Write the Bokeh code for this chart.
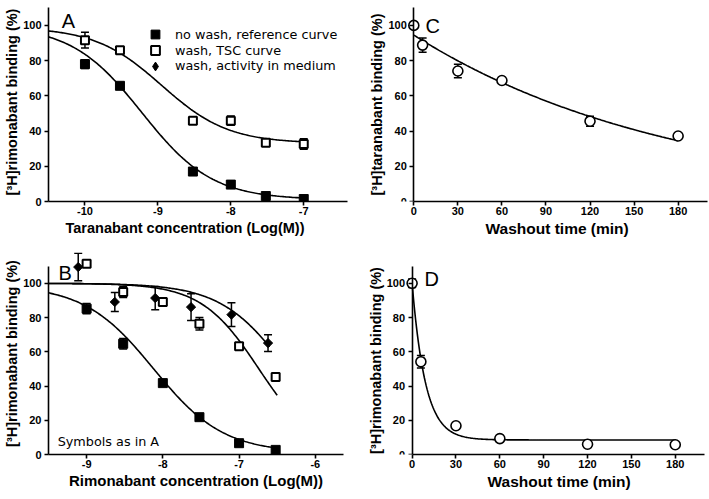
import numpy as np
from bokeh.plotting import figure
from bokeh.models import Range1d, FixedTicker, Label, Legend, LegendItem, Title
from bokeh.layouts import column, row
from bokeh.embed import file_html
from bokeh.resources import INLINE

# ---------------- data ----------------
# Panel A: taranabant (log M)
a_conc = [-10.0, -9.52, -8.52, -8.0, -7.52, -7.0]
a_nowash = [78.0, 65.7, 17.0, 9.6, 3.1, 1.4]
a_nowash_sem = [2.5, 1.5, 1.0, 1.5, 1.0, 1.0]
a_tsc = [91.6, 85.9, 45.9, 45.9, 33.3, 32.7]
a_tsc_sem = [4.5, 1.0, 1.0, 2.6, 1.0, 3.0]
# fitted curves: [top, bottom, logIC50, hill]
a_nowash_fit = [100.0, 1.0, -9.22, 0.9]
a_tsc_fit = [99.0, 33.0, -8.95, 0.95]

# Panel B: rimonabant (log M)
b_conc = [-9.0, -8.52, -8.0, -7.52, -7.0, -6.52]
b_nowash = [85.2, 64.7, 41.7, 21.8, 6.6, 2.7]
b_nowash_sem = [3.0, 3.0, 1.0, 1.0, 1.0, 1.0]
b_tsc = [111.5, 94.9, 89.1, 76.4, 63.2, 45.2]
b_tsc_sem = [1.5, 3.2, 1.5, 3.7, 1.0, 1.0]
b_med_conc = [-9.11, -8.63, -8.1, -7.63, -7.1, -6.62]
b_med = [109.5, 89.1, 91.4, 86.1, 81.7, 65.1]
b_med_sem = [8.0, 5.5, 6.8, 7.8, 7.0, 4.9]
b_nowash_fit = [99.0, 1.0, -8.12, 0.95]
b_tsc_fit = [100.0, 0.0, -6.74, 1.15]
b_med_fit = [100.0, 0.0, -6.37, 1.0]

# Panel C / D: washout time (min)
c_time = [0, 6, 30, 60, 120, 180]
c_bind = [100.0, 88.8, 74.1, 68.7, 45.6, 37.2]
c_sem = [0.0, 4.0, 3.8, 1.0, 2.8, 1.0]
c_fit = [94.5, 0.0, 0.0056]   # [Y0, plateau, k]
d_time = [0, 6, 30, 60, 120, 180]
d_bind = [100.0, 54.2, 16.8, 9.3, 6.0, 5.7]
d_sem = [2.5, 3.7, 1.0, 1.0, 1.0, 1.0]
d_fit = [100.0, 8.5, 0.11]

y_ticks = [0, 20, 40, 60, 80, 100]
a_xticks = [-10, -9, -8, -7]
b_xticks = [-9, -8, -7, -6]
t_ticks = [0, 30, 60, 90, 120, 150, 180]

legend_labels = ["no wash, reference curve", "wash, TSC curve", "wash, activity in medium"]

# ---------------- helpers ----------------
def sigmoid(x, prm):
    top, bottom, logic50, hill = prm
    return bottom + (top - bottom) / (1.0 + 10.0 ** ((x - logic50) * hill))

def decay(t, prm):
    y0, plateau, k = prm
    return plateau + (y0 - plateau) * np.exp(-k * t)

FONT = "Liberation Sans"
TITLE_SIZE = "14.5px"

def make_fig(W, H, L, R, T, B, xr, yr):
    p = figure(width=W, height=H, x_range=Range1d(*xr), y_range=Range1d(*yr),
               output_backend="svg", toolbar_location=None,
               min_border_left=L, min_border_right=R, min_border_top=T, min_border_bottom=B)
    p.outline_line_color = None
    p.xgrid.visible = False
    p.ygrid.visible = False
    p.background_fill_color = "white"
    p.border_fill_color = "white"
    return p

def style_axes(p, xticks, xbounds, xlabel, ylabel, yfixed=None, xlabel_size=TITLE_SIZE):
    for ax in (p.xaxis[0], p.yaxis[0]):
        ax.axis_line_width = 1.6
        ax.axis_line_color = "black"
        ax.major_tick_line_width = 1.6
        ax.major_tick_line_color = "black"
        ax.major_tick_in = 0
        ax.major_tick_out = 4
        ax.minor_tick_line_color = None
        ax.major_label_text_font = FONT
        ax.major_label_text_font_style = "bold"
        ax.major_label_text_font_size = "11px"
        ax.major_label_text_color = "black"
        ax.axis_label_text_font = FONT
        ax.axis_label_text_font_style = "bold"
        ax.axis_label_text_font_size = TITLE_SIZE
        ax.axis_label_text_color = "black"
    xa = p.xaxis[0]
    ya = p.yaxis[0]
    xa.bounds = xbounds
    xa.ticker = FixedTicker(ticks=xticks)
    xa.major_label_overrides = {t: str(t) for t in xticks}
    xa.major_label_standoff = 1
    xa.axis_label_standoff = 1
    if xlabel is not None:
        xa.axis_label = xlabel
        xa.axis_label_text_font_size = xlabel_size
    ya.bounds = (0, 110)
    ya.ticker = FixedTicker(ticks=y_ticks)
    ya.major_label_standoff = 3
    ya.axis_label_standoff = 0
    ya.axis_label = ylabel
    if yfixed is not None:
        ya.fixed_location = yfixed

def x_title(p, text, offset, size=TITLE_SIZE):
    # x-axis title placed under the axis, starting `offset` px from the frame's left edge
    p.add_layout(Title(text=text, align="left", offset=offset, standoff=0,
                       text_font=FONT, text_font_size=size, text_font_style="bold",
                       text_color="black"), "below")

def draw_errors(p, xs, ys, es):
    pts = [(x, y, e) for x, y, e in zip(xs, ys, es) if e > 0]
    ex = [q[0] for q in pts]
    lo = [q[1] - q[2] for q in pts]
    hi = [q[1] + q[2] for q in pts]
    p.segment(x0=ex, y0=lo, x1=ex, y1=hi, line_color="black", line_width=1.5)
    p.scatter(x=ex + ex, y=lo + hi, marker="dash", size=8, line_color="black", line_width=1.5)

def filled_sq(p, x, y):
    return p.scatter(x=x, y=y, marker="square", size=9, fill_color="black", line_color="black")

def open_sq(p, x, y):
    return p.scatter(x=x, y=y, marker="square", size=8, fill_color="white",
                     line_color="black", line_width=2)

def diamond(p, x, y):
    return p.scatter(x=x, y=y, marker="square", angle=np.pi / 4, size=6.5,
                     fill_color="black", line_color="black")

def panel_letter(p, x, y, s):
    p.add_layout(Label(x=x, y=y, text=s, text_font=FONT, text_font_size="20px",
                       text_color="black", text_baseline="alphabetic"))

ylab_rim = "[\u00b3H]rimonabant binding (%)"
ylab_tar = "[\u00b3H]taranabant binding (%)"

# ---------------- Panel A ----------------
pA = make_fig(360, 240, 48, 13, 2, 38, (-10.5, -6.4), (0, 113))
style_axes(pA, a_xticks, (-10.5, -6.4), None, ylab_rim)
x_title(pA, "Taranabant concentration (Log(M))", 17)
xa = np.linspace(-10.5, -7.0, 200)
pA.line(xa, sigmoid(xa, a_nowash_fit), line_color="black", line_width=1.6)
pA.line(xa, sigmoid(xa, a_tsc_fit), line_color="black", line_width=1.6)
draw_errors(pA, a_conc, a_nowash, a_nowash_sem)
draw_errors(pA, a_conc, a_tsc, a_tsc_sem)
rA1 = filled_sq(pA, a_conc, a_nowash)
rA2 = open_sq(pA, a_conc, a_tsc)
# legend-only proxy for the diamond symbol (no data point in panel A)
rA3 = pA.scatter(x=np.array([np.nan]), y=np.array([np.nan]), marker="diamond", size=9,
                 fill_color="black", line_color="black")
leg_common = dict(padding=0, margin=0, border_line_alpha=0, background_fill_alpha=0,
                  glyph_width=22, label_standoff=9, label_height=14, spacing=0,
                  label_text_font="DejaVu Sans", label_text_font_size="12.8px",
                  label_text_color="black")
for r, lab, loc, gh in ((rA1, legend_labels[0], (96, 156), 22),
                        (rA2, legend_labels[1], (96, 140), 22),
                        (rA3, legend_labels[2], (96, 123.5), 24)):
    pA.add_layout(Legend(items=[LegendItem(label=lab, renderers=[r])],
                         location=loc, glyph_height=gh, **leg_common))
panel_letter(pA, -10.32, 102.4, "A")

# ---------------- Panel C ----------------
pC = make_fig(348, 240, 0, 1, 0, 39, (-36.3, 200), (0, 113))
style_axes(pC, t_ticks, (0, 200), None, ylab_tar, yfixed=0)
tc = np.linspace(0, 180, 200)
pC.line(tc, decay(tc, c_fit), line_color="black", line_width=1.6)
draw_errors(pC, c_time, c_bind, c_sem)
pC.scatter(x=c_time, y=c_bind, marker="circle", size=10, fill_color="white",
           line_color="black", line_width=1.6)
panel_letter(pC, 8, 99.6, "C")
x_title(pC, "Washout time (min)", 125, "15.5px")

# ---------------- Panel B ----------------
pB = make_fig(360, 258, 48, 17, 12, 44, (-9.5, -5.63), (0, 118))
style_axes(pB, b_xticks, (-9.5, -5.63), "Rimonabant concentration (Log(M))", ylab_rim,
           xlabel_size="15px")
xb = np.linspace(-9.5, -6.5, 200)
xbm = np.linspace(-9.5, -6.6, 200)
pB.line(xb, sigmoid(xb, b_nowash_fit), line_color="black", line_width=1.6)
pB.line(xb, sigmoid(xb, b_tsc_fit), line_color="black", line_width=1.6)
pB.line(xbm, sigmoid(xbm, b_med_fit), line_color="black", line_width=1.6)
draw_errors(pB, b_conc, b_nowash, b_nowash_sem)
draw_errors(pB, b_conc, b_tsc, b_tsc_sem)
draw_errors(pB, b_med_conc, b_med, b_med_sem)
filled_sq(pB, b_conc, b_nowash)
open_sq(pB, b_conc, b_tsc)
diamond(pB, b_med_conc, b_med)
panel_letter(pB, -9.37, 106, "B")
pB.add_layout(Label(x=-9.38, y=7.6, text="Symbols as in A", text_font="DejaVu Sans",
                    text_font_size="12.8px", text_color="black", text_baseline="middle"))

# ---------------- Panel D ----------------
pD = make_fig(348, 258, 0, 4, 8, 41, (-35.3, 200), (0, 118))
style_axes(pD, t_ticks, (0, 200), None, ylab_rim, yfixed=0)
td = np.linspace(0, 180, 300)
pD.line(td, decay(td, d_fit), line_color="black", line_width=1.6)
draw_errors(pD, d_time, d_bind, d_sem)
pD.scatter(x=d_time, y=d_bind, marker="circle", size=10, fill_color="white",
           line_color="black", line_width=1.6)
panel_letter(pD, 8.4, 102.4, "D")
x_title(pD, "Washout time (min)", 127, "15.5px")

layout = column(row(pA, pC), row(pB, pD))
open("out.html", "w").write(file_html(layout, INLINE))
